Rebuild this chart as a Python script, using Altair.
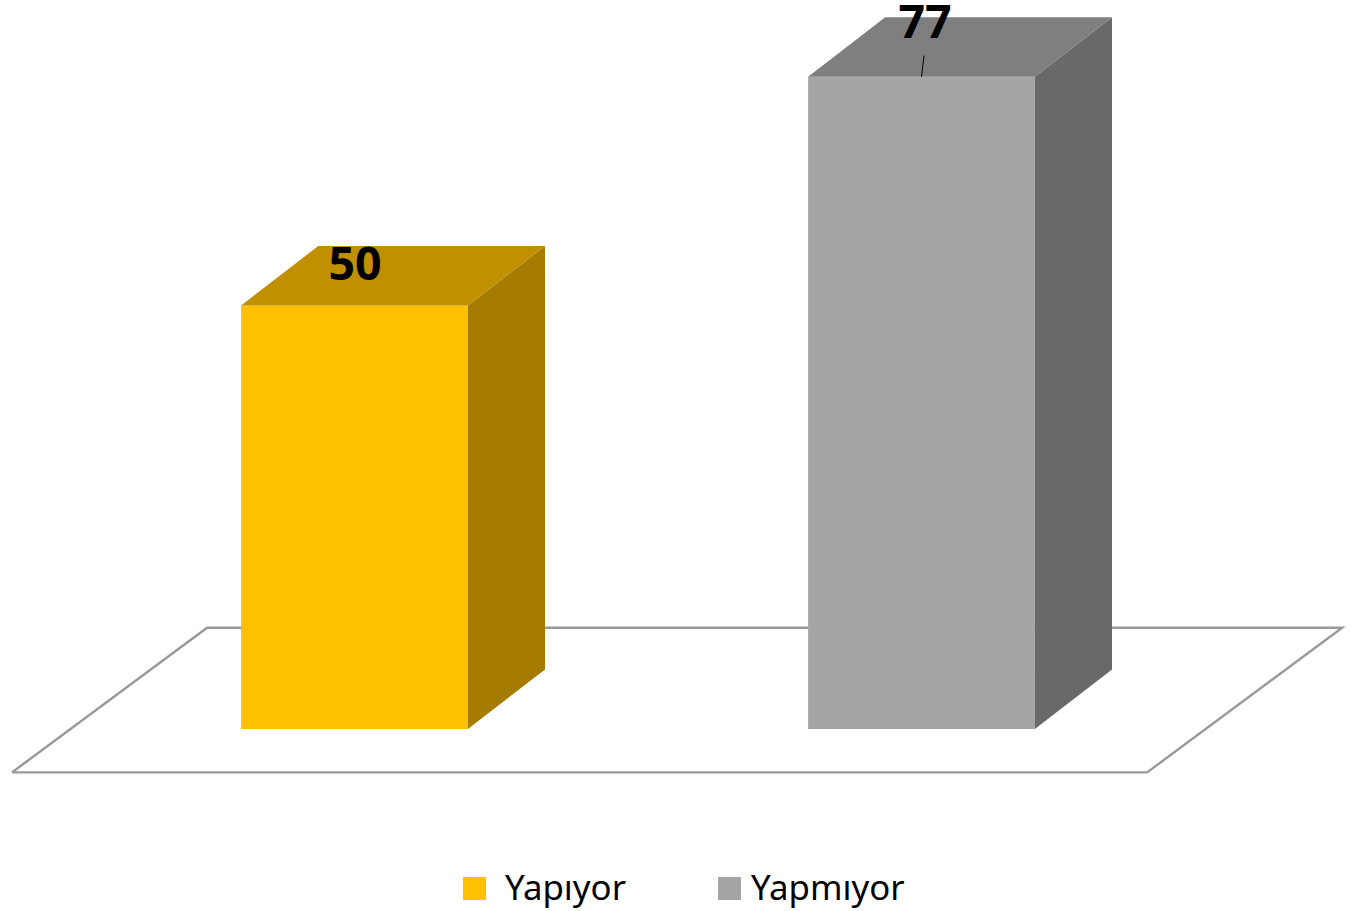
import altair as alt
import pandas as pd

CATEGORIES = ["Yapıyor", "Yapmıyor"]
VALUES = [50, 77]
FRONT = ["#FFC000", "#A5A5A5"]
TOP = ["#C09000", "#7F7F7F"]
SIDE = ["#A67C00", "#696969"]
LEGEND_TEXT = ["Yapıyor", "Yapmıyor"]
LEGEND_BOX_X = [0.1914, 0.6411]
LEGEND_BOX_W = 0.0406
LEGEND_BOX_Y = [-20.19, -17.47]
LEGEND_TEXT_X = [0.2654, 0.6993]
LEGEND_TEXT_Y = -20.22
FLOOR_X = [-0.604, 1.398, 1.742, -0.260, -0.604]
FLOOR_Y = [-5.12, -5.12, 11.95, 11.95, -5.12]
LABEL_X = [0.0009, 1.0062]
LABEL_Y = [53.0, 81.55]
LEADER_X = [1.0, 1.0044]
LEADER_Y = [77, 79.5]
HALF = 0.2
DEPTH_X = 0.136
DEPTH_Y = 7.02

W, H = 1356, 911
x_scale = alt.Scale(domain=[-0.6252, 1.7663], nice=False, zero=False)
y_scale = alt.Scale(domain=[-21.49, 86.07], nice=False, zero=False)
X = alt.X("x:Q", scale=x_scale, axis=None)
Y = alt.Y("y:Q", scale=y_scale, axis=None)
color_domain = [f"{k}{i}" for k in "fts" for i in range(2)]
color_range = FRONT + TOP + SIDE
C = alt.Color("c:N", scale=alt.Scale(domain=color_domain, range=color_range), legend=None)

floor = alt.Chart(pd.DataFrame({"x": FLOOR_X, "y": FLOOR_Y, "o": range(5)})).mark_line(
    color="#999999", strokeWidth=2.4, strokeJoin="miter"
).encode(X, Y, order="o:Q")

front_rows = []
faces = []
for i, v in enumerate(VALUES):
    l, r = i - HALF, i + HALF
    front_rows.append({"x": l, "x2": r, "y": 0, "y2": v, "c": f"f{i}"})
    side_rows = [{"x": r + t * DEPTH_X, "y": t * DEPTH_Y, "y2": v + t * DEPTH_Y} for t in (0, 1)]
    top_rows = [{"y": v + t * DEPTH_Y, "x": l + t * DEPTH_X, "x2": r + t * DEPTH_X} for t in (0, 1)]
    faces.append(alt.Chart(pd.DataFrame(side_rows)).mark_area(color=SIDE[i], orient="vertical").encode(
        X, Y, alt.Y2("y2:Q")))
    faces.append(alt.Chart(pd.DataFrame(top_rows)).mark_area(color=TOP[i], orient="horizontal").encode(
        X, alt.X2("x2:Q"), Y))

front = alt.Chart(pd.DataFrame(front_rows)).mark_rect().encode(X, alt.X2("x2:Q"), Y, alt.Y2("y2:Q"), C)

labels = alt.Chart(pd.DataFrame({"x": LABEL_X, "y": LABEL_Y, "t": [str(v) for v in VALUES]})).mark_text(
    font="Open Sans", fontWeight="bold", fontSize=46.5, color="#000000", baseline="alphabetic", align="center"
).encode(X, Y, text="t:N")
leader = alt.Chart(pd.DataFrame({"x": LEADER_X, "y": LEADER_Y, "o": [0, 1]})).mark_line(
    color="#000000", strokeWidth=1
).encode(X, Y, order="o:Q")

legend_box = alt.Chart(pd.DataFrame({
    "x": LEGEND_BOX_X,
    "x2": [v + LEGEND_BOX_W for v in LEGEND_BOX_X],
    "y": [LEGEND_BOX_Y[0]] * 2,
    "y2": [LEGEND_BOX_Y[1]] * 2,
    "c": ["f0", "f1"],
})).mark_rect().encode(X, alt.X2("x2:Q"), Y, alt.Y2("y2:Q"), C)
legend_text = alt.Chart(pd.DataFrame({
    "x": LEGEND_TEXT_X, "y": [LEGEND_TEXT_Y] * 2, "t": LEGEND_TEXT,
})).mark_text(
    font="Noto Sans", fontSize=34.8, color="#000000", baseline="alphabetic", align="left"
).encode(X, Y, text="t:N")

chart = alt.layer(floor, front, *faces, leader, labels, legend_box, legend_text).properties(
    width=W, height=H, padding=0, autosize=alt.AutoSizeParams(type="none"),
    background="#FFFFFF",
).configure_view(stroke=None)

chart.save("out.html", embed_options={"renderer": "svg", "actions": False, "defaultStyle": "body{margin:0}"})
